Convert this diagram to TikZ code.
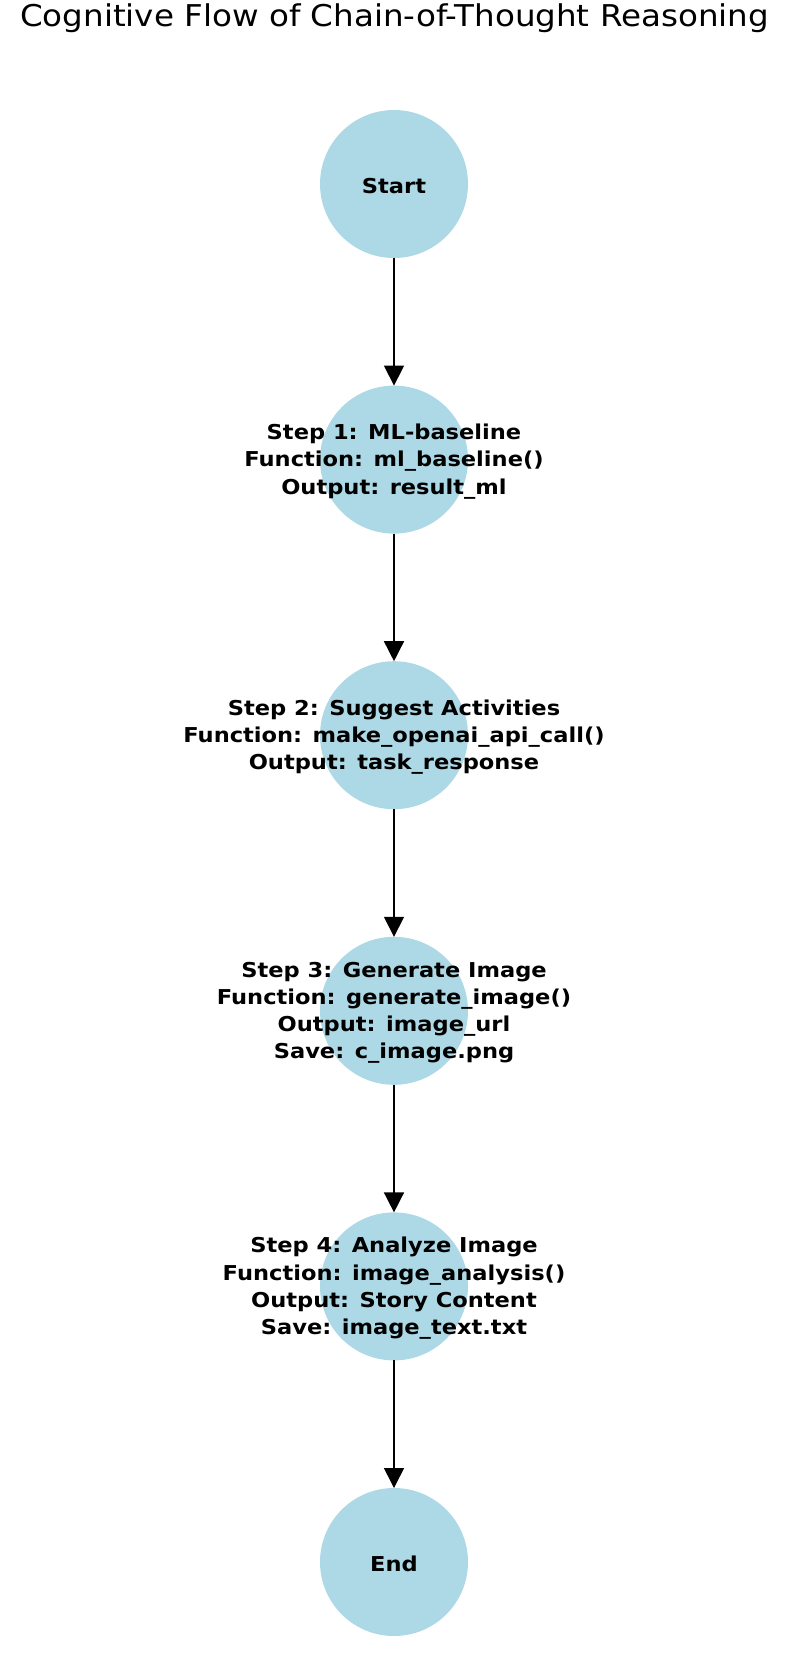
\documentclass[tikz,border=0pt]{standalone}
\usepackage{fontspec}
\setmainfont{DejaVu Sans}
\newfontfamily\titulofont[FakeStretch=1.085]{DejaVu Sans}
\newfontfamily\rotulofont[FakeStretch=1.1]{DejaVu Sans}
\usetikzlibrary{arrows.meta,positioning}
\definecolor{lightblue}{HTML}{ADD8E6}

\begin{document}
\begin{tikzpicture}[x=1pt,y=1pt,>={Triangle[length=20pt,width=20pt]},node distance=127.6pt]
  \tikzstyle{etapa}=[circle,fill=lightblue,minimum size=148pt,inner sep=0pt,outer sep=0pt]
  \tikzstyle{rotulo}=[align=center,yshift=-2pt,font=\rotulofont\fontsize{20.5}{27.3}\selectfont\bfseries]
  \useasboundingbox (0,0) rectangle (802,-1670);
  \node[font=\titulofont\fontsize{30}{36}\selectfont,anchor=base] (titulo) at (394.5,-27) {Cognitive Flow of Chain-of-Thought Reasoning};
  \node[etapa,label={[rotulo]center:Start}] (inicio) at (394,-184) {};
  \node[etapa,below=of inicio,label={[rotulo]center:Step 1: ML-baseline\\Function: ml\_baseline()\\Output: result\_ml}] (passo1) {};
  \node[etapa,below=of passo1,label={[rotulo]center:Step 2: Suggest Activities\\Function: make\_openai\_api\_call()\\Output: task\_response}] (passo2) {};
  \node[etapa,below=of passo2,label={[rotulo]center:Step 3: Generate Image\\Function: generate\_image()\\Output: image\_url\\Save: c\_image.png}] (passo3) {};
  \node[etapa,below=of passo3,label={[rotulo]center:Step 4: Analyze Image\\Function: image\_analysis()\\Output: Story Content\\Save: image\_text.txt}] (passo4) {};
  \node[etapa,below=of passo4,label={[rotulo]center:End}] (fim) {};
  \draw[line width=1.5pt,->] (inicio) -- (passo1);
  \draw[line width=1.5pt,->] (passo1) -- (passo2);
  \draw[line width=1.5pt,->] (passo2) -- (passo3);
  \draw[line width=1.5pt,->] (passo3) -- (passo4);
  \draw[line width=1.5pt,->] (passo4) -- (fim);
\end{tikzpicture}
\end{document}
